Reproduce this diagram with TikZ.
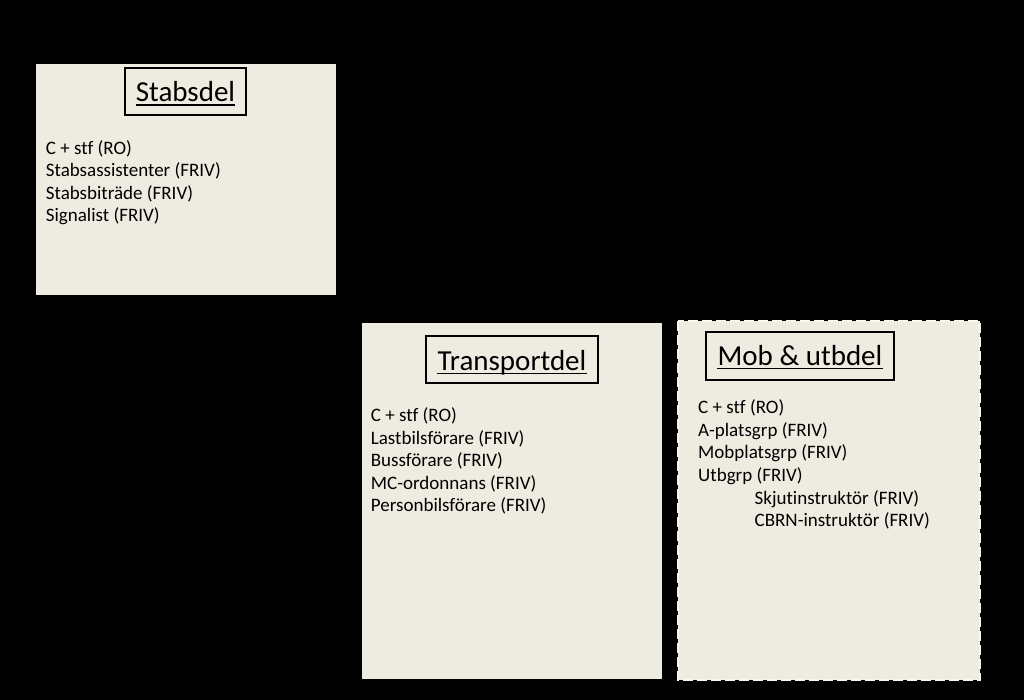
\documentclass[tikz,border=0pt]{standalone}
\usepackage{fontspec}
\setmainfont{Carlito}[Ligatures={NoCommon}]
\definecolor{paper}{HTML}{EEECE1}
\definecolor{edge}{HTML}{F7F6F0}
\tikzset{
  panel/.style={fill=paper, draw=none},
  dashpanel/.style={fill=paper, draw=edge, line width=2.2pt, dash pattern=on 10pt off 4pt},
  titlebox/.style={draw=black, line width=1.4pt, fill=none},
  titletext/.style={font=\fontsize{29}{33}\selectfont, inner sep=0pt, anchor=base},
  uline/.style={draw=black, line width=1.4pt},
  item/.style={font=\fontsize{19}{23}\selectfont, inner sep=0pt, anchor=base west, text=black}
}
\begin{document}
\begin{tikzpicture}[x=1pt,y=-1pt]
\fill[black] (0,0) rectangle (1024,700);
\useasboundingbox (0,0) rectangle (1024,700);
% panels
\path[panel] (36,64) rectangle (336,295);
\path[panel] (362,323) rectangle (662,679);
\path[dashpanel] (678,321) rectangle (980,680);
% title boxes
\draw[titlebox] (125,68) rectangle (246,115);
\draw[titlebox] (426,336) rectangle (598,383);
\draw[titlebox] (706,332) rectangle (894,380);
\node[titletext] (t1) at (185.5,101.5) {Stabsdel};
\node[titletext] (t2) at (512,370) {Transportdel};
\node[titletext] (t3) at (800,365) {Mob \& utbdel};
\foreach \t in {t1,t2,t3}
  \draw[uline] ([yshift=-3.5pt]\t.base west) -- ([yshift=-3.5pt]\t.base east);
% Stabsdel items
\node[item] (a1) at (45.7,154.3) {C + stf (RO)};
\node[item] (a2) at (45.7,176.8) {Stabsassistenter (FRIV)};
\node[item] (a3) at (45.7,199.3) {Stabsbiträde (FRIV)};
\node[item] (a4) at (45.7,221.8) {Signalist (FRIV)};
% Transportdel items
\node[item] (b1) at (370.7,421.7) {C + stf (RO)};
\node[item] (b2) at (370.7,444.3) {Lastbilsförare (FRIV)};
\node[item] (b3) at (370.7,466.8) {Bussförare (FRIV)};
\node[item] (b4) at (370.7,489.3) {MC-ordonnans (FRIV)};
\node[item] (b5) at (370.7,511.8) {Personbilsförare (FRIV)};
% Mob & utbdel items
\node[item] (c1) at (698,413.3) {C + stf (RO)};
\node[item] (c2) at (698,436) {A-platsgrp (FRIV)};
\node[item] (c3) at (698,458.7) {Mobplatsgrp (FRIV)};
\node[item] (c4) at (698,481.4) {Utbgrp (FRIV)};
\node[item] (c5) at (754.5,504.1) {Skjutinstruktör (FRIV)};
\node[item] (c6) at (754.5,526.8) {CBRN-instruktör (FRIV)};
\end{tikzpicture}
\end{document}
